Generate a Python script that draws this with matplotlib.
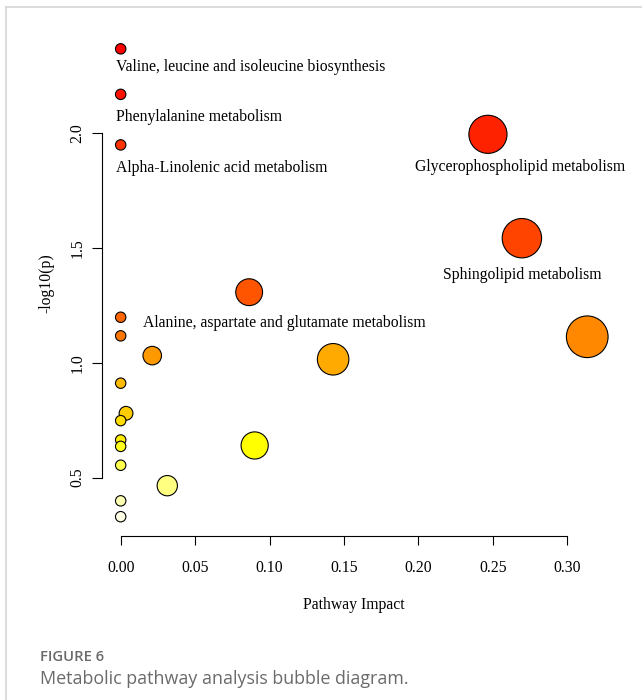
import colorsys
import numpy as np
import matplotlib
matplotlib.use("Agg")
import matplotlib.pyplot as plt
from matplotlib.lines import Line2D

# pathway impact (x) and -log10(p) (y), sorted by y descending
impact = [0.0, 0.0, 0.2467, 0.0, 0.2695, 0.0863, 0.0, 0.0, 0.3134, 0.0212, 0.1427,
          0.0, 0.0036, 0.0, 0.0, 0.090, 0.0, 0.0, 0.0313, 0.0, 0.0]
logp = [2.366, 2.168, 1.994, 1.948, 1.542, 1.307, 1.198, 1.117, 1.113, 1.031, 1.015,
        0.911, 0.780, 0.748, 0.664, 0.640, 0.636, 0.554, 0.465, 0.399, 0.330]
names = ["Valine, leucine and isoleucine biosynthesis", "Phenylalanine metabolism",
         "Glycerophospholipid metabolism", "Alpha-Linolenic acid metabolism",
         "Sphingolipid metabolism", "Alanine, aspartate and glutamate metabolism"]

x_ticks = [0.0, 0.05, 0.10, 0.15, 0.20, 0.25, 0.30]
y_ticks = [0.5, 1.0, 1.5, 2.0]

# label offsets in pixels (dx, dy) and alignment
label_style = [(-5, -18, "left"), (-5, -23, "left"), (32, -33, "center"),
               (-5, -23, "left"), (0, -37, "center"), (35, -31, "center")]


def heat_colors(n):
    j = n // 4
    i = n - j
    cols = []
    for k in range(i):
        h = (k / (i - 1)) * (1 / 6) if i > 1 else 0
        cols.append(colorsys.hsv_to_rgb(h, 1, 1))
    for s in np.linspace(1 - 1 / (2 * j), 1 / (2 * j), j):
        cols.append(colorsys.hsv_to_rgb(1 / 6, s, 1))
    return cols


serif = "Liberation Serif"
fs = 11.3

fig = plt.figure(figsize=(6.42, 7.0), dpi=100)
ax = fig.add_axes((102 / 642, 1 - 536 / 700, 504 / 642, 506 / 700))

x = np.array(impact)
y = np.array(logp)
ax.set_xlim(-0.01255, 0.326)
ax.set_ylim(0.246, 2.448)

# radius in x units (MetaboAnalyst style), converted to pixels
sqx = np.sqrt(x)
max_r = (sqx.max() - sqx.min()) / 40
min_r = (sqx.max() - sqx.min()) / 160
radius = min_r + (max_r - min_r) * (sqx - sqx.min()) / (sqx.max() - sqx.min())
px_per_x = ax.transData.transform((1, 0))[0] - ax.transData.transform((0, 0))[0]
sizes = (2 * radius * px_per_x * 72 / fig.dpi) ** 2

ax.scatter(x, y, s=sizes, c=heat_colors(len(x)), edgecolors="black",
           linewidths=0.8, clip_on=False, zorder=3)

for i, name in enumerate(names):
    dx, dy, ha = label_style[i]
    ax.annotate(name, (x[i], y[i]), xytext=(dx * 0.72, dy * 0.72),
                textcoords="offset points", ha=ha, va="center",
                family=serif, fontsize=fs, color="black")

for side in ["top", "right"]:
    ax.spines[side].set_visible(False)
ax.spines["left"].set_bounds(0.5, 2.0)
ax.spines["bottom"].set_bounds(0.0, 0.30)
ax.spines["left"].set_linewidth(0.8)
ax.spines["bottom"].set_linewidth(0.8)

ax.set_xticks(x_ticks)
ax.set_xticklabels(["%.2f" % v for v in x_ticks])
ax.set_yticks(y_ticks)
ax.set_yticklabels(["%.1f" % v for v in y_ticks], rotation=90, va="center")
ax.tick_params(axis="x", length=6.3, width=0.8, pad=10.7)
ax.tick_params(axis="y", length=7, width=0.8, pad=5.1)
for lab in ax.get_xticklabels() + ax.get_yticklabels():
    lab.set_family(serif)
    lab.set_fontsize(fs)

ax.set_xlabel("Pathway Impact", family=serif, fontsize=fs, va="center")
ax.set_ylabel("-log10(p)", family=serif, fontsize=fs, va="center")
ax.xaxis.set_label_coords(0.5, (536 - 605) / 506)
ax.yaxis.set_label_coords((46 - 102) / 504, 0.5)

# page frame
fig.add_artist(Line2D([6 / 642, 1], [1 - 7 / 700] * 2, color="#d5d5d5", lw=1.2))
fig.add_artist(Line2D([6 / 642] * 2, [0, 1 - 7 / 700], color="#d5d5d5", lw=1.2))

fig.text(40 / 642, 1 - 657 / 700, "FIGURE 6", family="Open Sans", weight="semibold",
         fontsize=10.7, color="#6a6a6a", va="center")
fig.text(40 / 642, 1 - 679 / 700, "Metabolic pathway analysis bubble diagram.",
         family="Open Sans", fontsize=12.9, color="#6a6a6a", va="center")

fig.savefig("out.png", dpi=100)
